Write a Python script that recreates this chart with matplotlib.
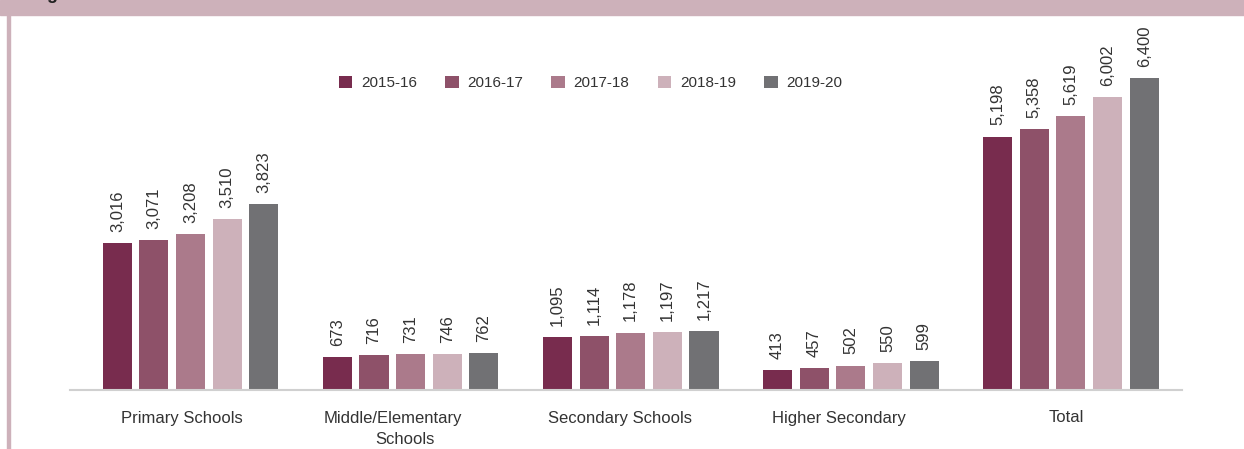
import matplotlib
matplotlib.use("Agg")
import matplotlib.pyplot as plt
import matplotlib.transforms as mtransforms
import numpy as np

plt.rcParams['font.family'] = ['Liberation Sans', 'DejaVu Sans']

categories = ["Primary Schools", "Middle/Elementary\nSchools", "Secondary Schools",
              "Higher Secondary", "Total"]
years = ["2015-16", "2016-17", "2017-18", "2018-19", "2019-20"]
v_2015 = [3016, 673, 1095, 413, 5198]
v_2016 = [3071, 716, 1114, 457, 5358]
v_2017 = [3208, 731, 1178, 502, 5619]
v_2018 = [3510, 746, 1197, 550, 6002]
v_2019 = [3823, 762, 1217, 599, 6400]
series = [v_2015, v_2016, v_2017, v_2018, v_2019]
colors = ['#782c4e', '#8e5169', '#ab7a8b', '#cdb1ba', '#717174']

W, H = 1244, 449
fig = plt.figure(figsize=(W / 100, H / 100), dpi=100, facecolor='w')

# header band + left border
fig.patches.append(plt.Rectangle((0, 1 - 15 / H), 1, 15 / H, transform=fig.transFigure,
                                 color='#cdb1ba', zorder=0))
fig.patches.append(plt.Rectangle((7 / W, 0), 3 / W, 1, transform=fig.transFigure,
                                 color='#cdb1ba', zorder=0))
fig.text(32 / W, 1 + 1 / H, "Figure", fontsize=13, fontweight='bold', color='#222222',
         ha='left', va='baseline')

ax = fig.add_axes([70 / W, (H - 390) / H, (1182 - 70) / W, (390 - 20) / H])

x = np.arange(len(categories))
barW = 0.132
step = 0.1665
for i, (vals, yr, c) in enumerate(zip(series, years, colors)):
    pos = x + (i - 2) * step
    ax.bar(pos, vals, width=barW, color=c, label=yr, zorder=2)
    for p, v in zip(pos, vals):
        ax.annotate(f"{v:,}", (p, v), xytext=(0, 8), textcoords='offset points',
                    rotation=90, ha='center', va='bottom', fontsize=12, color='#333333')

ax.set_xlim(-0.548, 4.505)
ax.set_ylim(0, 7590)
ax.set_xticks(x)
ax.set_xticklabels([])
ax.tick_params(axis='x', length=0)
ax.set_yticks([])

# category labels, drawn line by line (the original sits a bit left of the groups)
shifts = [[-8.5], [-18, -6], [-10.5], [-11.5], [-5]]
trans = mtransforms.blended_transform_factory(ax.transData, fig.transFigure)
for xi, lab, sh in zip(x, categories, shifts):
    for k, (line, dx) in enumerate(zip(lab.split("\n"), sh)):
        off = mtransforms.ScaledTranslation(dx / 100, 0, fig.dpi_scale_trans)
        ax.text(xi, 1 - (418 + 22 * k) / H, line, transform=trans + off,
                ha='center', va='center', fontsize=12, color='#333333', clip_on=False)

for s in ['top', 'right', 'left']:
    ax.spines[s].set_visible(False)
ax.spines['bottom'].set_color('#d0d0d0')
ax.spines['bottom'].set_linewidth(1.5)
ax.patch.set_alpha(0)

fig.legend(loc='center', bbox_to_anchor=(590.5 / W, 1 - 83 / H), ncol=5, frameon=False,
           fontsize=11, handlelength=0.9, handleheight=0.9, handletextpad=0.55,
           columnspacing=1.85, labelcolor='#333333')

plt.savefig("out.png", dpi=100)
